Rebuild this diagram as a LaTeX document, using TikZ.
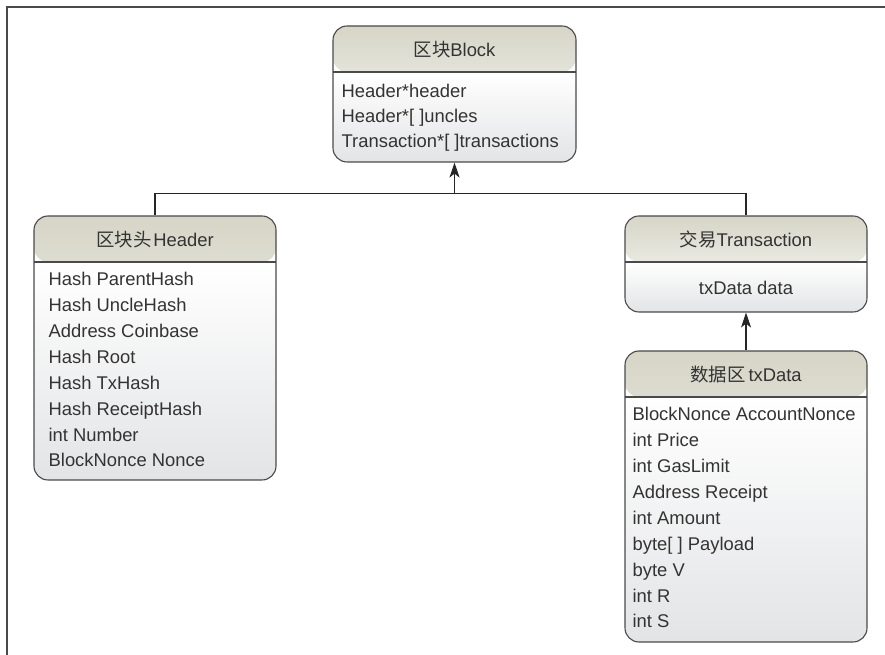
\documentclass[tikz,border=0pt]{standalone}
\usepackage{fontspec}
\setmainfont{Liberation Sans}
\newfontfamily\cjk{Noto Sans CJK SC}
\usepackage{xcolor}
\usetikzlibrary{arrows.meta}
\definecolor{boxline}{HTML}{4A4A4A}
\definecolor{titletop}{HTML}{D6D5C7}
\definecolor{bodybot}{HTML}{E3E4E6}
\definecolor{textgray}{HTML}{333333}

\begin{document}
\begin{tikzpicture}[x=1pt, y=1pt,
	every node/.style={inner sep=0pt, text=textgray, font=\fontsize{18.4}{22}\selectfont},
	classbox/.style={draw=boxline, line width=1.1pt, rounded corners=14pt, minimum width=242pt,
		path picture={
			\shade[top color=titletop, bottom color=white] (path picture bounding box.north west) rectangle ([yshift=-46pt]path picture bounding box.north east);
			\shade[top color=white, bottom color=bodybot] ([yshift=-46pt]path picture bounding box.north west) rectangle (path picture bounding box.south east);
			\draw[boxline, line width=1.1pt] ([yshift=-46pt]path picture bounding box.north west) -- ([yshift=-46pt]path picture bounding box.north east);
		}},
	field/.style={anchor=base west},
	link/.style={draw=black!85, line width=1.1pt},
	tip/.style={-{Stealth[length=15pt, width=10pt, inset=4pt]}}]
	\useasboundingbox (0,0) rectangle (885,655);
	\draw[boxline, line width=1.5pt] (7,0) -- (7,648) -- (885,648);

	% classes
	\node[classbox, minimum width=243pt, minimum height=136pt] (block) at (454.5,561) {};
	\node[classbox, minimum height=264pt] (header) at (155,307) {};
	\node[classbox, minimum height=96pt] (trans) at (746,391) {};
	\node[classbox, minimum height=291pt] (txdata) at (746,158.5) {};

	\node (blocktitle) at ([yshift=-24pt]block.north) {{\cjk 区块}Block};
	\node (headertitle) at ([yshift=-24pt]header.north) {{\cjk 区块头}\hspace{2pt}Header};
	\node (transtitle) at ([yshift=-24pt]trans.north) {{\cjk 交易}Transaction};
	\node (txdatatitle) at ([yshift=-24pt]txdata.north) {{\cjk 数据区}\hspace{3pt}txData};

	% fields
	\foreach \txt [count=\i] in {{Header*header}, {Header*[ ]uncles}, {Transaction*[ ]transactions}}
		\node[field] (blockf\i) at ([xshift=9pt, yshift={-(47.5+25*\i)*1pt}]block.north west) {\txt};
	\foreach \txt [count=\i] in {Hash ParentHash, Hash UncleHash, Address Coinbase, Hash Root, Hash TxHash, Hash ReceiptHash, int Number, BlockNonce Nonce}
		\node[field] (headerf\i) at ([xshift=15pt, yshift={-(44.64+25.86*\i)*1pt}]header.north west) {\txt};
	\node (transf1) at ([yshift=-72pt]trans.north) {txData data};
	\foreach \txt [count=\i] in {BlockNonce AccountNonce, int Price, int GasLimit, Address Receipt, int Amount, {byte[ ] Payload}, byte V, int R, int S}
		\node[field] (txdataf\i) at ([xshift=8pt, yshift={-(44.63+25.87*\i)*1pt}]txdata.north west) {\txt};

	% links
	\coordinate (bus) at ([yshift=-31pt]block.south);
	\draw[link] (header.north) |- (bus) -| (trans.north);
	\draw[link, tip] (bus) -- (block.south);
	\draw[link, tip] (txdata.north) -- (trans.south);
\end{tikzpicture}
\end{document}
